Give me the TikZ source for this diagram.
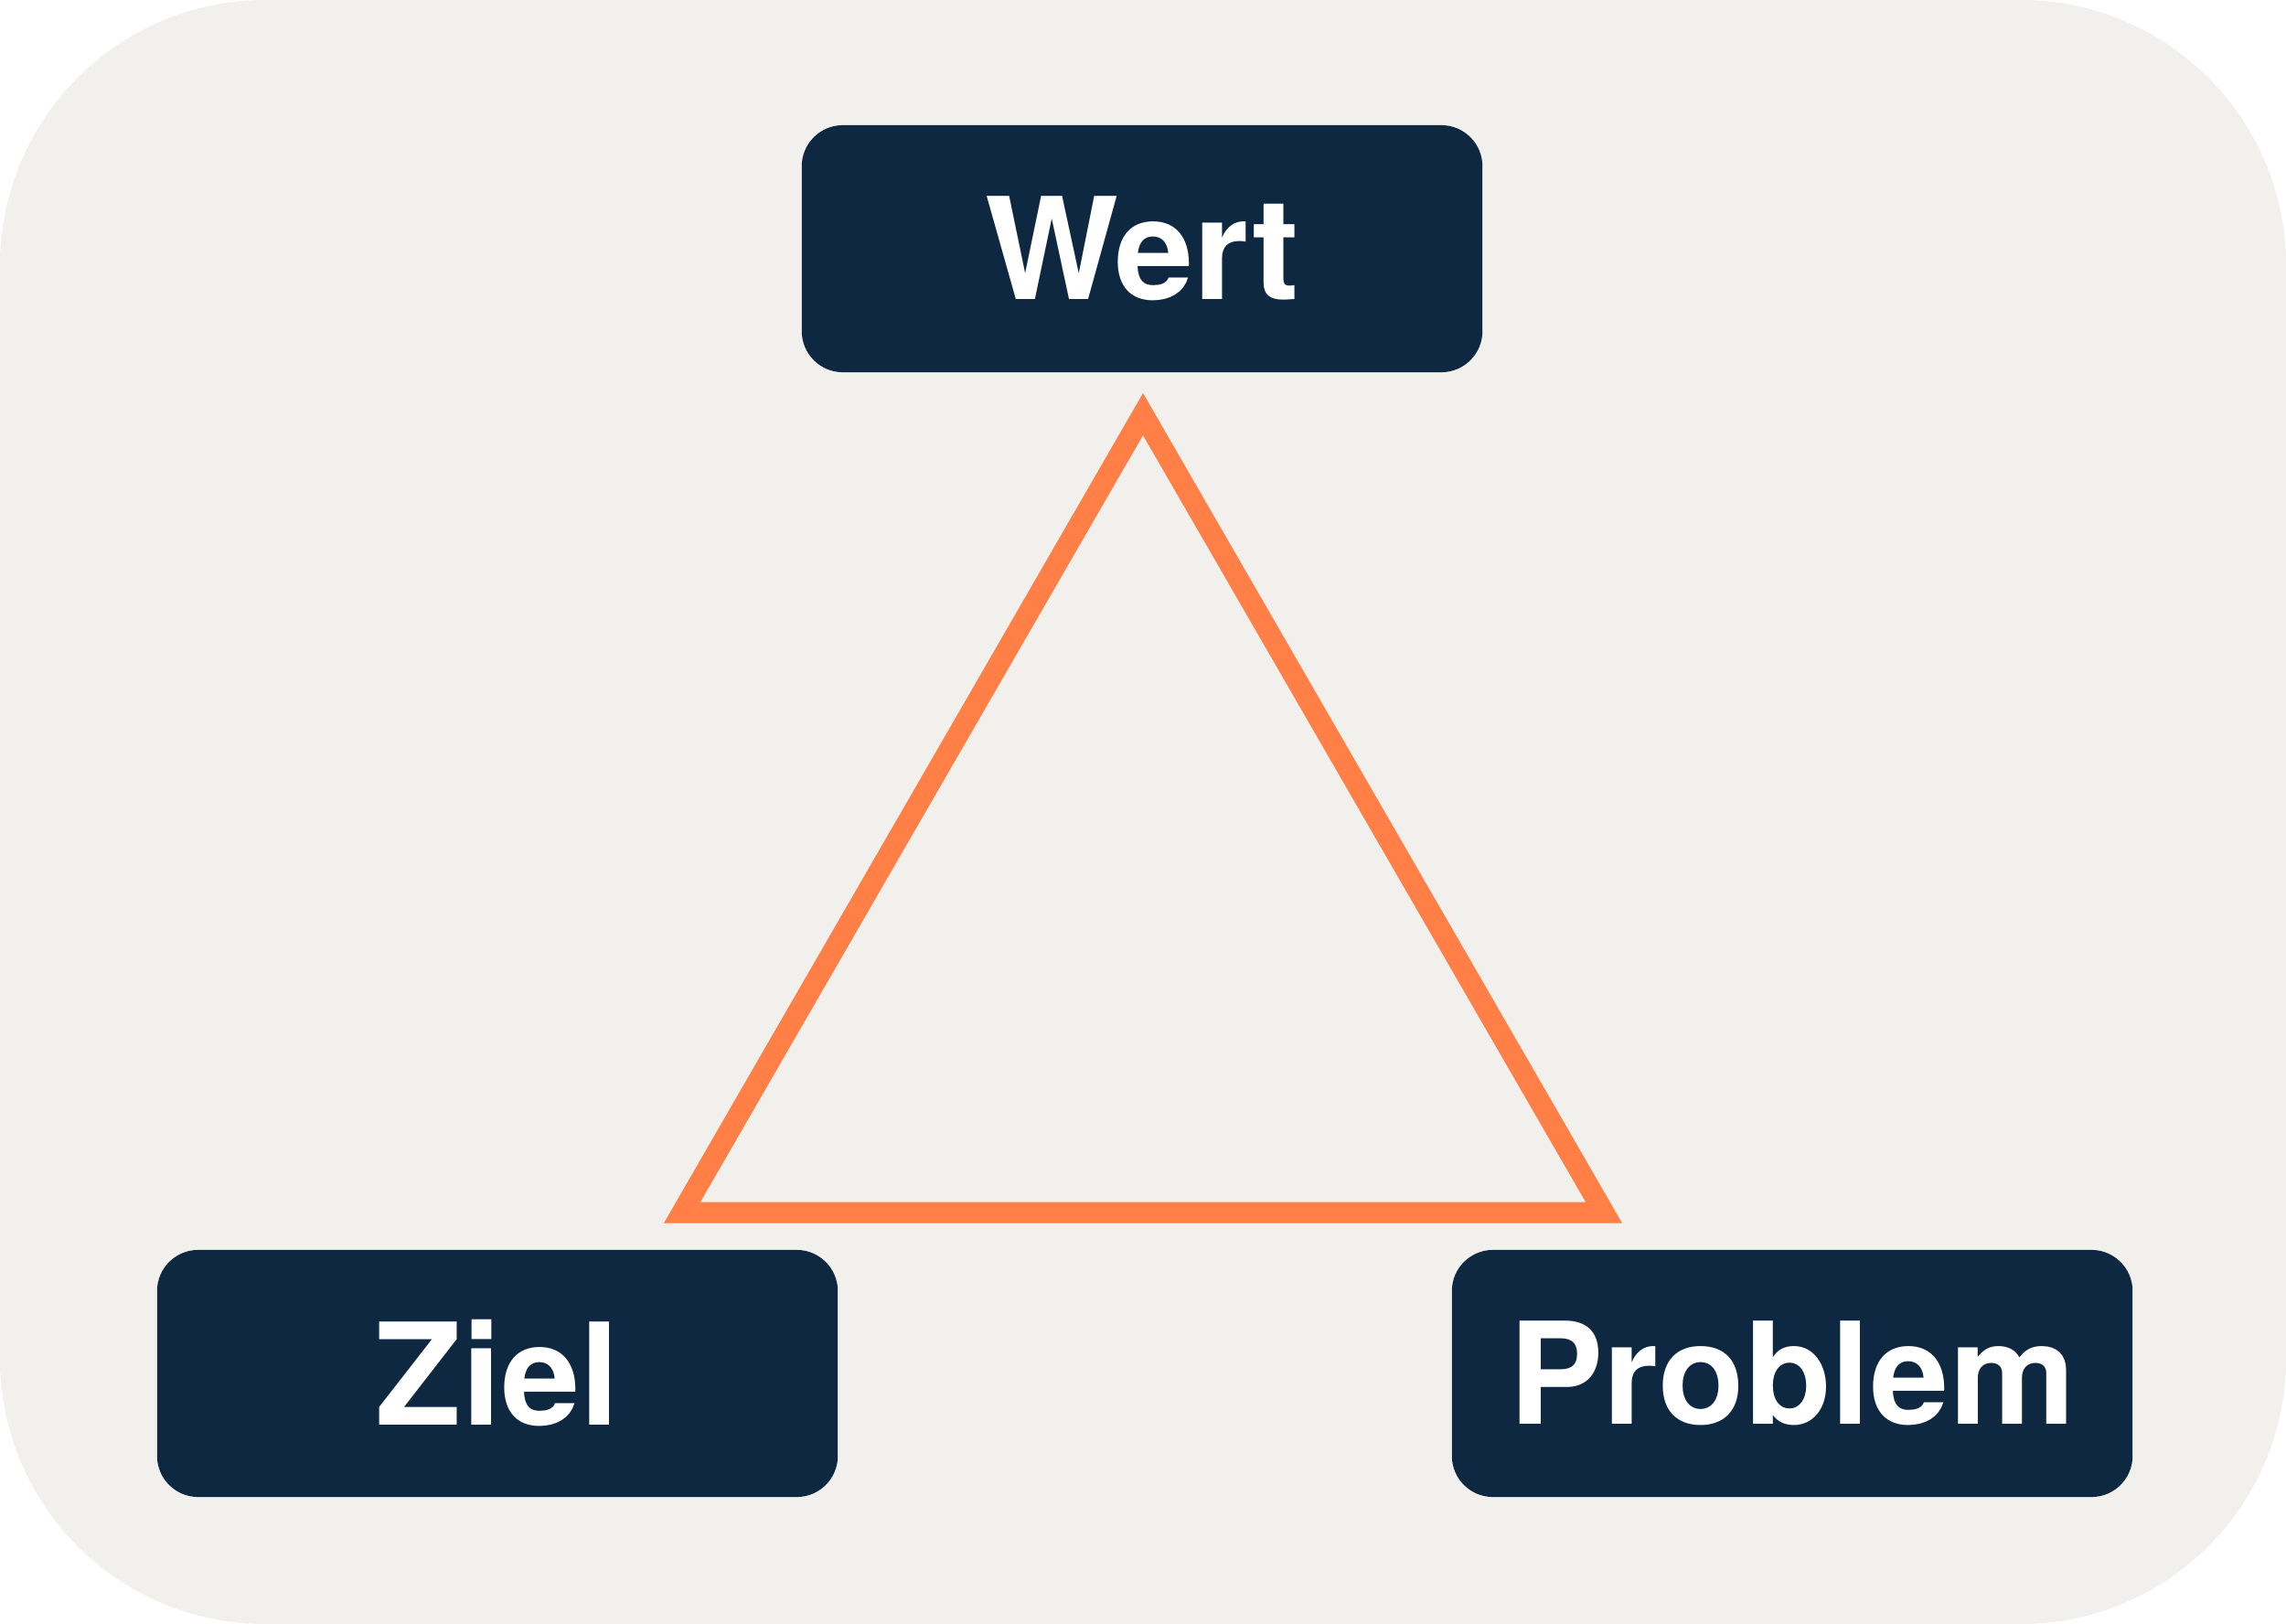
\documentclass[tikz,border=0pt]{standalone}
\usepackage{fontspec}
\setmainfont{TeX Gyre Heros}

\definecolor{bgpaper}{HTML}{F1F0EC}
\definecolor{navy}{HTML}{0F2841}
\definecolor{triorange}{HTML}{FF7F47}

\begin{document}
\begin{tikzpicture}[x=0.01cm, y=-0.01cm,
  box/.style={fill=navy, rounded corners=0.45cm, minimum width=7.44cm,
    minimum height=2.7cm, inner sep=0pt, text=white,
    font=\fontsize{44}{52}\selectfont\bfseries}]
  % --- Triangle Wert / Ziel / Problem on a 2500 x 1776 panel ---
  \def\W{2500}\def\H{1776}

  % Background panel (fixes the size of the picture)
  \fill[bgpaper, rounded corners=2.9cm] (0,0) rectangle (\W,\H);

  % The three boxes
  \node[box] (wert) at (1249,272) {Wert};
  \node[box] (ziel) at (544,1502) {Ziel};
  \node[box] (problem) at (1960,1502) {Problem};

  % Corners of the triangle
  \coordinate (apex) at (1250,453);
  \coordinate (left) at (746,1326);
  \coordinate (right) at (1754,1326);

  % Triangle
  \draw[triorange, line width=0.23cm] (apex) -- (left) -- (right) -- cycle;
\end{tikzpicture}
\end{document}
